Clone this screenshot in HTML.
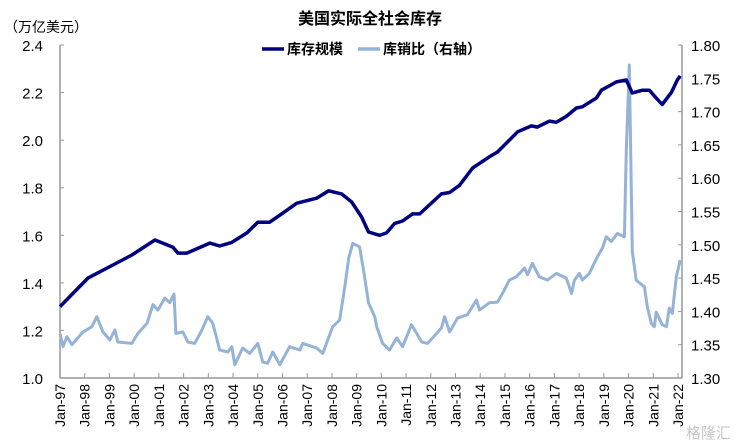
<!DOCTYPE html>
<html><head><meta charset="utf-8"><style>
body{margin:0;background:#fff;}
svg{display:block;font-family:"Liberation Sans","Noto Sans CJK SC",sans-serif;}
</style></head><body>
<svg id="chart" width="741" height="445" viewBox="0 0 741 445" xmlns="http://www.w3.org/2000/svg">
<text x="370" y="24" text-anchor="middle" font-size="16" font-weight="bold" fill="#000">美国实际全社会库存</text>
<text x="4" y="32" font-size="14" fill="#000">（万亿美元）</text>
<g>
<line x1="262" y1="49" x2="284" y2="49" stroke="#000080" stroke-width="3.5"/>
<text x="287" y="54" font-size="14" font-weight="bold">库存规模</text>
<line x1="358" y1="49" x2="380" y2="49" stroke="#95b3d7" stroke-width="3.5"/>
<text x="383" y="54" font-size="14" font-weight="bold">库销比（右轴）</text>
</g>
<g id="axes"></g>
<g id="series"></g>
<text x="686" y="438" font-size="15" fill="#c8c8c8">格隆汇</text>
</svg>
<script>
const leftTicks=[1.0,1.2,1.4,1.6,1.8,2.0,2.2,2.4];
const rightTicks=[1.30,1.35,1.40,1.45,1.50,1.55,1.60,1.65,1.70,1.75,1.80];
const xLabels=["Jan-97","Jan-98","Jan-99","Jan-00","Jan-01","Jan-02","Jan-03","Jan-04","Jan-05","Jan-06","Jan-07","Jan-08","Jan-09","Jan-10","Jan-11","Jan-12","Jan-13","Jan-14","Jan-15","Jan-16","Jan-17","Jan-18","Jan-19","Jan-20","Jan-21","Jan-22"];
const invDates=[0,1.13,2.14,2.91,3.84,4.16,4.57,4.77,5.13,6.06,6.46,6.95,7.56,8.0,8.48,9.01,9.58,10.38,10.87,11.39,11.8,12.2,12.48,12.93,13.21,13.54,13.86,14.26,14.55,15.43,15.76,16.16,16.69,17.37,17.7,18.18,18.51,19.07,19.31,19.8,20.08,20.48,20.89,21.13,21.7,21.9,22.51,22.91,23.15,23.56,23.84,24.12,24.36,24.73,24.97,25.09];
const invValues=[1.30,1.42,1.475,1.517,1.58,1.567,1.55,1.525,1.525,1.567,1.555,1.57,1.61,1.655,1.655,1.693,1.735,1.756,1.787,1.774,1.74,1.677,1.614,1.60,1.61,1.65,1.66,1.69,1.69,1.774,1.78,1.81,1.883,1.93,1.95,2.0,2.035,2.06,2.055,2.08,2.075,2.10,2.135,2.14,2.177,2.21,2.245,2.253,2.198,2.21,2.21,2.177,2.15,2.20,2.253,2.27];
const ratioDates=[0,.12,.28,.48,.93,1.29,1.49,1.74,2.02,2.22,2.34,2.91,3.15,3.52,3.76,3.96,4.24,4.44,4.61,4.69,4.97,5.17,5.45,5.74,5.98,6.18,6.46,6.79,6.95,7.07,7.39,7.68,8.0,8.2,8.4,8.61,8.89,9.29,9.7,9.82,10.38,10.63,10.83,11.03,11.31,11.52,11.68,11.84,12.12,12.32,12.48,12.73,12.81,13.05,13.33,13.62,13.86,14.22,14.63,14.87,15.43,15.56,15.76,16.08,16.48,16.85,16.97,17.37,17.7,17.9,18.18,18.46,18.79,18.91,19.11,19.39,19.72,20.08,20.48,20.69,20.81,21.01,21.13,21.41,21.74,21.94,22.1,22.3,22.55,22.83,22.91,23.03,23.15,23.31,23.64,23.76,23.92,24.04,24.12,24.36,24.53,24.65,24.77,24.93,25.09];
const ratioValues=[1.367,1.347,1.362,1.35,1.369,1.377,1.392,1.369,1.357,1.372,1.354,1.352,1.367,1.382,1.41,1.402,1.42,1.413,1.426,1.367,1.369,1.354,1.352,1.372,1.392,1.382,1.342,1.339,1.347,1.32,1.345,1.337,1.352,1.324,1.322,1.339,1.32,1.347,1.342,1.352,1.345,1.337,1.357,1.377,1.387,1.437,1.48,1.502,1.497,1.452,1.413,1.392,1.377,1.352,1.342,1.36,1.347,1.38,1.354,1.352,1.375,1.392,1.369,1.39,1.395,1.417,1.402,1.413,1.414,1.427,1.447,1.452,1.465,1.455,1.472,1.452,1.447,1.457,1.45,1.427,1.447,1.457,1.447,1.457,1.482,1.495,1.512,1.505,1.517,1.512,1.642,1.77,1.49,1.447,1.437,1.407,1.382,1.377,1.399,1.38,1.377,1.405,1.397,1.452,1.477];

const NS="http://www.w3.org/2000/svg";
const X0=60,X1=682,YT=45,YB=378,YEAR=24.72;
const xs=t=>X0+t*YEAR;
const yL=v=>YB-(v-1.0)/1.4*(YB-YT);
const yR=v=>YB-(v-1.30)/0.5*(YB-YT);
function mk(tag,attrs,parent){const e=document.createElementNS(NS,tag);for(const k in attrs)e.setAttribute(k,attrs[k]);parent.appendChild(e);return e;}
const axes=document.getElementById('axes'),ser=document.getElementById('series');
let e;
e=mk('line',{x1:X0,y1:YT,x2:X0,y2:YB,stroke:'#999','stroke-width':1.5},axes);


e=mk('line',{x1:X1,y1:YT,x2:X1,y2:YB,stroke:'#999','stroke-width':1.5},axes);


e=mk('line',{x1:X0,y1:YB,x2:X1,y2:YB,stroke:'#999','stroke-width':1.5},axes);


leftTicks.forEach(v=>{
 const y=yL(v);
 e=mk('line',{x1:X0,y1:y,x2:X0+4,y2:y,stroke:'#999'},axes);
 
 
 e=mk('text',{x:X0-17,y:y+6,'text-anchor':'end','font-size':15},axes);
 e.textContent=v.toFixed(1);
 
 
});
rightTicks.forEach(v=>{
 const y=yR(v);
 e=mk('line',{x1:X1-4,y1:y,x2:X1,y2:y,stroke:'#999'},axes);
 
 
 e=mk('text',{x:X1+9,y:y+6,'font-size':15},axes);
 e.textContent=v.toFixed(2);
 
 
});
xLabels.forEach((l,i)=>{
 const x=xs(i);
 e=mk('line',{x1:x,y1:YB-5,x2:x,y2:YB,stroke:'#999'},axes);
 
 
 e=mk('text',{x:0,y:0,'text-anchor':'end','font-size':14,transform:`translate(${x+5},${YB+6}) rotate(-90)`},axes);
 e.textContent=l;
 
 
});
function path(d,v,fy){let s='';const n=Math.min(d.length,v.length);for(let i=0;i<n;i++)s+=(i?'L':'M')+xs(d[i]).toFixed(1)+','+fy(v[i]).toFixed(1);return s;}
e=mk('path',{d:path(ratioDates,ratioValues,yR),fill:'none',stroke:'#95b3d7','stroke-width':3,'stroke-linejoin':'round'},ser);


e=mk('path',{d:path(invDates,invValues,yL),fill:'none',stroke:'#000080','stroke-width':3.5,'stroke-linejoin':'round'},ser);


</script>
</body></html>
